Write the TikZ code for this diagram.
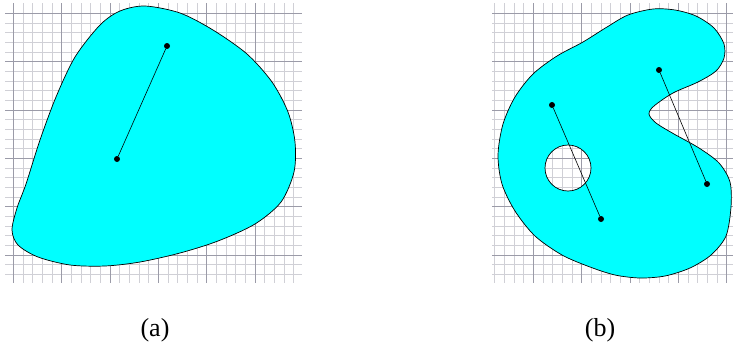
\documentclass[tikz,border=0pt]{standalone}
\usepackage{fontspec}
\setmainfont{Liberation Serif}
\usetikzlibrary{positioning}
\definecolor{gridlight}{RGB}{208,208,214}
\definecolor{griddark}{RGB}{155,155,168}
\definecolor{blobcyan}{RGB}{0,255,255}
\tikzset{
    thingrid/.style = {draw=gridlight, line width=0.9pt},
    thickgrid/.style = {draw=griddark, line width=0.9pt},
    blob/.style = {fill=blobcyan, draw=black, line width=0.7pt},
    dot/.style = {circle, fill=black, inner sep=0pt, minimum size=6pt},
    chord/.style = {draw=black, line width=0.6pt},
    caption/.style = {font=\fontsize{26}{30}\selectfont}
}

\begin{document}
\begin{tikzpicture}[x=1pt, y=-1pt]
\useasboundingbox (0,0) rectangle (733,354);

% Grid (a)
\foreach \k in {0,...,27}
    \draw [thingrid] (5,13.3+9.67*\k) -- (302,13.3+9.67*\k);
\foreach \k in {0,...,29}
    \draw [thingrid] (13.3+9.67*\k,3) -- (13.3+9.67*\k,283);
\foreach \k in {0,5,...,25}
    \draw [thickgrid] (5,13.3+9.67*\k) -- (302,13.3+9.67*\k);
\foreach \k in {0,5,...,25}
    \draw [thickgrid] (13.3+9.67*\k,3) -- (13.3+9.67*\k,283);

% Grid (b)
\foreach \k in {0,...,27}
    \draw [thingrid] (492,13.3+9.67*\k) -- (733,13.3+9.67*\k);
\foreach \k in {-4,...,20}
    \draw [thingrid] (533.3+9.67*\k,3) -- (533.3+9.67*\k,283);
\foreach \k in {0,5,...,25}
    \draw [thickgrid] (492,13.3+9.67*\k) -- (733,13.3+9.67*\k);
\foreach \k in {0,5,...,20}
    \draw [thickgrid] (533.3+9.67*\k,3) -- (533.3+9.67*\k,283);

% Shapes
\path [blob] plot [smooth cycle] coordinates {
    (145,6) (180,13) (213,30) (247,54) (272,82) (288,112) (295,142)
    (294,172) (281,202) (255,224) (218,241) (180,253) (140,262)
    (105,266) (70,265) (38,257) (18,245) (12,230) (17,208) (26,184)
    (40,140) (56,97) (75,57) (100,25) (120,11)};

\path [blob, even odd rule] plot [smooth cycle] coordinates {
    (653,9) (675,10) (696,16) (714,28) (724,44) (724,58) (716,71)
    (698,82) (673,93) (654,106) (649,114) (656,123) (674,134)
    (699,148) (719,163) (730,182) (731,207) (726,236) (711,255)
    (690,268) (665,276) (640,278) (615,275) (590,267) (562,255)
    (535,236) (515,211) (502,184) (498,155) (503,124) (515,97)
    (533,74) (557,56) (583,42) (607,27) (628,15)}
    (568,168) circle [radius=23pt];

% Points
\node (pa1) [dot] at (167,46) {};
\node (pa2) [dot] at (117,159) {};
\node (pb1) [dot] at (552,105) {};
\node (pb2) [dot] at (601,219) {};
\node (pb3) [dot] at (659,70) {};
\node (pb4) [dot] at (707,184) {};

% Chords
\draw [chord] (pa1) -- (pa2);
\draw [chord] (pb1) -- (pb2);
\draw [chord] (pb3) -- (pb4);

% Labels
\node (capa) [caption] at (155,330) {(a)};
\node (capb) [caption] at (600,330) {(b)};

\end{tikzpicture}
\end{document}
